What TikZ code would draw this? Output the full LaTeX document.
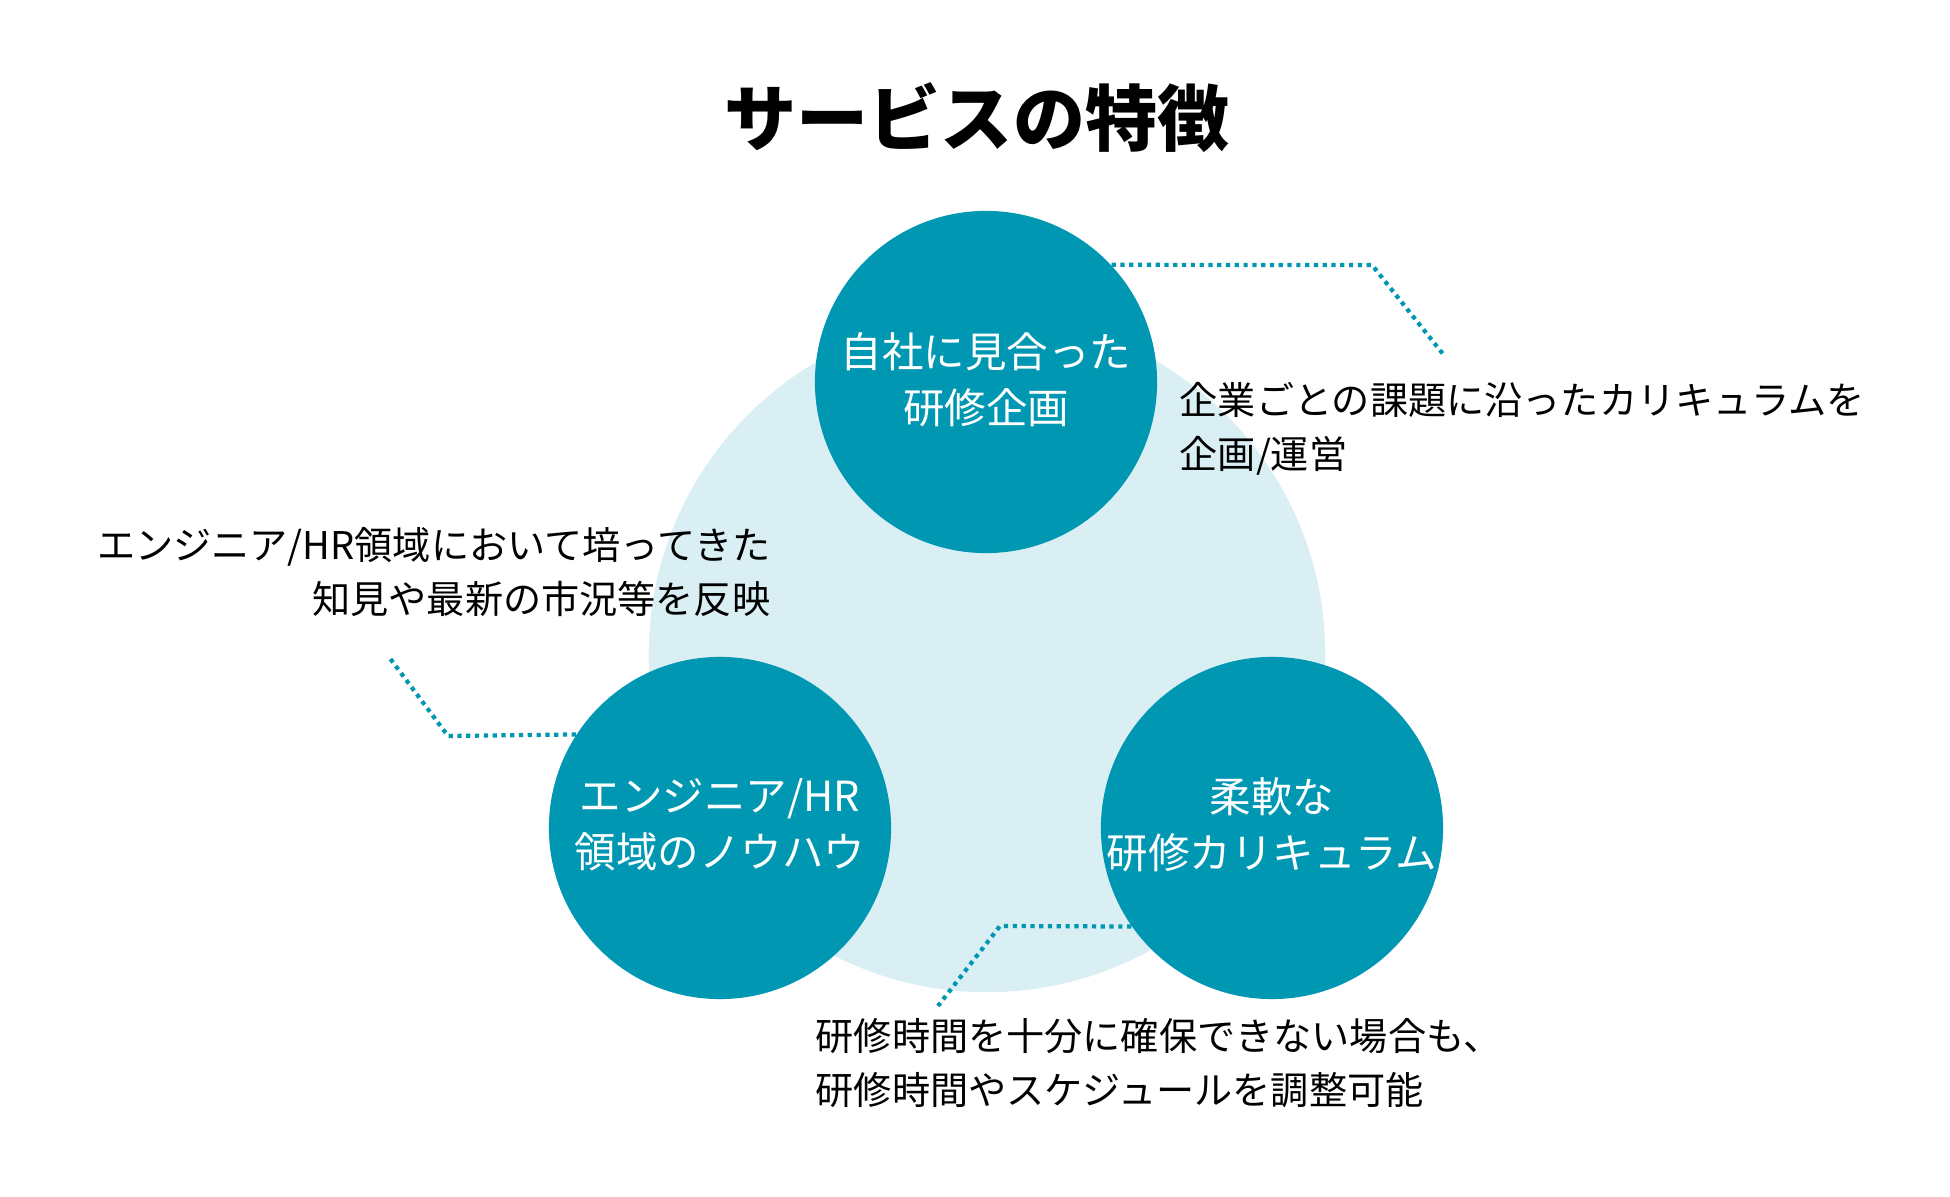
\documentclass[tikz,border=0pt]{standalone}
\usepackage{fontspec}
\newfontfamily\jp{Noto Sans CJK JP}
\definecolor{teal1}{RGB}{0,151,178}
\definecolor{light1}{RGB}{217,239,243}
\pgfdeclarelayer{back0}
\pgfdeclarelayer{back1}
\pgfsetlayers{back0,back1,main}
\begin{document}
\begin{tikzpicture}[x=0.01cm,y=-0.01cm,
  bigc/.style={circle,fill=teal1,minimum size=3.42cm,inner sep=0pt},
  ctext/.style={text=white,align=center,inner sep=0pt,font=\jp\fontsize{11.8pt}{16pt}\selectfont},
  desc/.style={text=black,inner sep=0pt,font=\jp\fontsize{10.85pt}{15.4pt}\selectfont},
  dotline/.style={draw=teal1,line width=1.2pt,dash pattern=on 1.2pt off 1.3pt}]
\useasboundingbox (0,0) rectangle (1950,1197);
% title
\node[inner sep=0pt,font=\jp\bfseries\fontsize{20.5pt}{24pt}\selectfont] (title) at (977,118) {サービスの特徴};
% circles
\node[bigc] (top) at (986,382) {};
\node[bigc] (left) at (720,828) {};
\node[bigc] (right) at (1272,828) {};
% connector bends and free ends
\coordinate (k1) at (1372,265);
\coordinate (e1) at (1443,354);
\coordinate (k2) at (448,736);
\coordinate (e2) at (389,657);
\coordinate (k3) at (1000,926);
\coordinate (e3) at (938,1006);
\begin{pgfonlayer}{back0}
  \fill[white] (0,0) rectangle (1950,1197);
  \node[circle,fill=light1,minimum size=6.76cm,inner sep=0pt] (bg) at (987,654) {};
\end{pgfonlayer}
\begin{pgfonlayer}{back1}
  \draw[dotline] (top.43) -- (k1) -- (e1);
  \draw[dotline] (left.147) -- (k2) -- (e2);
  \draw[dotline] (right.215) -- (k3) -- (e3);
\end{pgfonlayer}
% circle texts
\node[ctext] (t1) at (986,380) {自社に見合った\\研修企画};
\node[ctext] (t2) at (720,825) {エンジニア/HR\\領域のノウハウ};
\node[ctext] (t3) at (1272,825) {柔軟な\\研修カリキュラム};
% descriptions
\node[desc,anchor=west,align=left] (d1) at (1179,429) {企業ごとの課題に沿ったカリキュラムを\\企画/運営};
\node[desc,anchor=east,align=right] (d2) at (771,572) {エンジニア/HR領域において培ってきた\\知見や最新の市況等を反映};
\node[desc,anchor=west,align=left] (d3) at (815,1063) {研修時間を十分に確保できない場合も、\\研修時間やスケジュールを調整可能};
\end{tikzpicture}
\end{document}
